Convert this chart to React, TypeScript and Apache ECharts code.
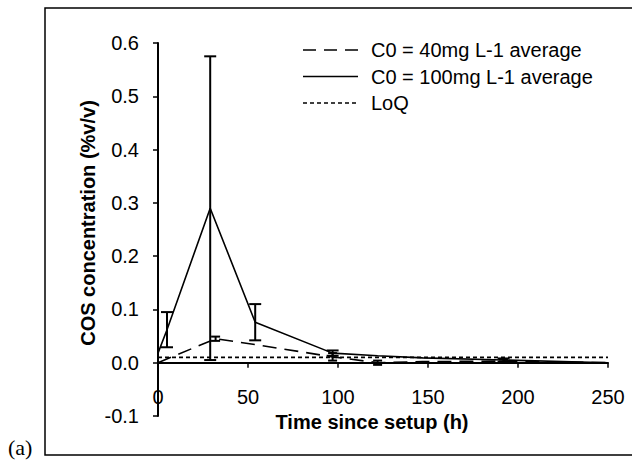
import React, { useEffect, useRef } from "react";
import * as echarts from "echarts";

// Time (h) and concentrations (%v/v)
const times100 = [0, 5, 29, 54, 97, 122, 147, 192, 250];
const mean100 = [0.018, 0.062, 0.29, 0.076, 0.018, 0.013, 0.009, 0.005, 0.0];
const err100 = [0, 0.033, 0.285, 0.034, 0.005, 0, 0, 0.003, 0];

const times40 = [0, 32, 54, 97, 122, 147, 192, 250];
const mean40 = [0.0, 0.045, 0.034, 0.011, 0.0, 0.002, 0.003, 0.0];
const err40 = [0, 0.004, 0, 0.007, 0.004, 0, 0.003, 0];

const loqTimes = [0, 250];
const loqValues = [0.01, 0.01];

const yTicks = [-0.1, 0.0, 0.1, 0.2, 0.3, 0.4, 0.5, 0.6];
const xTicks = [0, 50, 100, 150, 200, 250];

const seriesNames = ["C0 = 40mg L-1 average", "C0 = 100mg L-1 average", "LoQ"];
const legendDash: (number[] | null)[] = [[13, 8], null, [4, 3]];

const FONT = "'Liberation Sans', Arial, sans-serif";

function errorData(times: number[], means: number[], errs: number[]) {
  const out: number[][] = [];
  for (let i = 0; i < times.length; i++) {
    if (errs[i] > 0) out.push([times[i], means[i] - errs[i], means[i] + errs[i]]);
  }
  return out;
}

function makeErrorSeries(data: number[][], cap: number) {
  return {
    type: "custom",
    silent: true,
    z: 5,
    data,
    renderItem: (params: any, api: any) => {
      const x = api.value(0);
      const lo = api.coord([x, api.value(1)]);
      const hi = api.coord([x, api.value(2)]);
      const style = { stroke: "#000", lineWidth: 2, fill: "none" };
      return {
        type: "group",
        children: [
          { type: "line", shape: { x1: lo[0], y1: lo[1], x2: hi[0], y2: hi[1] }, style },
          { type: "line", shape: { x1: lo[0] - cap / 2, y1: lo[1], x2: lo[0] + cap / 2, y2: lo[1] }, style },
          { type: "line", shape: { x1: hi[0] - cap / 2, y1: hi[1], x2: hi[0] + cap / 2, y2: hi[1] }, style },
        ],
      };
    },
  };
}

const GRID_TOP = 43;
const GRID_BOTTOM = 46;
const CHART_H = 462;

export default function App() {
  const ref = useRef<HTMLDivElement>(null);
  useEffect(() => {
    document.body.style.margin = "0";
    if (!ref.current) return;
    const chart = echarts.init(ref.current, null, { renderer: "svg" });
    const zip = (a: number[], b: number[]) => a.map((v, i) => [v, b[i]]);
    const yMin = yTicks[0];
    const yMax = yTicks[yTicks.length - 1];
    const plotH = CHART_H - GRID_TOP - GRID_BOTTOM;
    const zeroOffset = ((0 - yMin) / (yMax - yMin)) * plotH;

    const legendGraphics: any[] = [];
    seriesNames.forEach((name, i) => {
      const y = 50 + i * 26.5;
      legendGraphics.push({
        type: "line",
        shape: { x1: 303, y1: y, x2: 358, y2: y },
        style: { stroke: "#000", lineWidth: 1.6, lineDash: legendDash[i] || undefined },
        silent: true,
      });
      legendGraphics.push({
        type: "text",
        x: 371,
        y: y,
        style: {
          text: name,
          font: "20px 'Liberation Sans', Arial, sans-serif",
          fill: "#000",
          textAlign: "left",
          textVerticalAlign: "middle",
        },
      });
    });

    chart.setOption({
      animation: false,
      backgroundColor: "#fff",
      textStyle: { fontFamily: FONT, color: "#000" },
      grid: { left: 158, right: 24, top: GRID_TOP, bottom: GRID_BOTTOM },
      xAxis: {
        type: "value",
        min: xTicks[0],
        max: xTicks[xTicks.length - 1],
        interval: 50,
        position: "bottom",
        offset: -zeroOffset,
        axisLine: { onZero: false, lineStyle: { color: "#000", width: 2 } },
        axisTick: { show: true, inside: false, length: 5, lineStyle: { color: "#000", width: 1.5 } },
        axisLabel: { fontFamily: FONT, fontSize: 20, color: "#000", margin: 24 },
        splitLine: { show: false },
      },
      yAxis: {
        type: "value",
        min: yMin,
        max: yMax,
        interval: 0.1,
        axisLine: { show: true, lineStyle: { color: "#000", width: 2 } },
        axisTick: { show: true, inside: false, length: 5, lineStyle: { color: "#000", width: 1.5 } },
        axisLabel: {
          fontFamily: FONT,
          fontSize: 20,
          color: "#000",
          margin: 19,
          formatter: (v: number) => v.toFixed(1),
        },
        splitLine: { show: false },
      },
      graphic: [
        {
          type: "rect",
          shape: { x: 45, y: 8, width: 600, height: 447 },
          style: { fill: "none", stroke: "#000", lineWidth: 1.5 },
          silent: true,
        },
        {
          type: "text",
          x: 8,
          y: 447,
          style: {
            text: "(a)",
            font: "22px 'Liberation Serif', 'Times New Roman', serif",
            fill: "#000",
            textAlign: "left",
            textVerticalAlign: "middle",
          },
        },
        {
          type: "text",
          x: 88,
          y: 223,
          rotation: Math.PI / 2,
          style: {
            text: "COS concentration (%v/v)",
            font: "bold 20px 'Liberation Sans', Arial, sans-serif",
            fill: "#000",
            textAlign: "center",
            textVerticalAlign: "middle",
          },
        },
        {
          type: "text",
          x: 372,
          y: 422,
          style: {
            text: "Time since setup (h)",
            font: "bold 20px 'Liberation Sans', Arial, sans-serif",
            fill: "#000",
            textAlign: "center",
            textVerticalAlign: "middle",
          },
        },
        ...legendGraphics,
      ],
      series: [
        {
          name: seriesNames[0],
          type: "line",
          data: zip(times40, mean40),
          symbol: "none",
          lineStyle: { color: "#000", width: 1.6, type: [14, 8] },
          itemStyle: { color: "#000" },
          z: 3,
        },
        {
          name: seriesNames[1],
          type: "line",
          data: zip(times100, mean100),
          symbol: "none",
          lineStyle: { color: "#000", width: 1.6, type: "solid" },
          itemStyle: { color: "#000" },
          z: 3,
        },
        {
          name: seriesNames[2],
          type: "line",
          data: zip(loqTimes, loqValues),
          symbol: "none",
          lineStyle: { color: "#000", width: 1.6, type: [4, 3] },
          itemStyle: { color: "#000" },
          z: 2,
        },
        makeErrorSeries(errorData(times100, mean100, err100), 12),
        makeErrorSeries(errorData(times40, mean40, err40), 9),
      ],
    });
    return () => chart.dispose();
  }, []);
  return <div ref={ref} style={{ width: 632, height: 462 }} />;
}
